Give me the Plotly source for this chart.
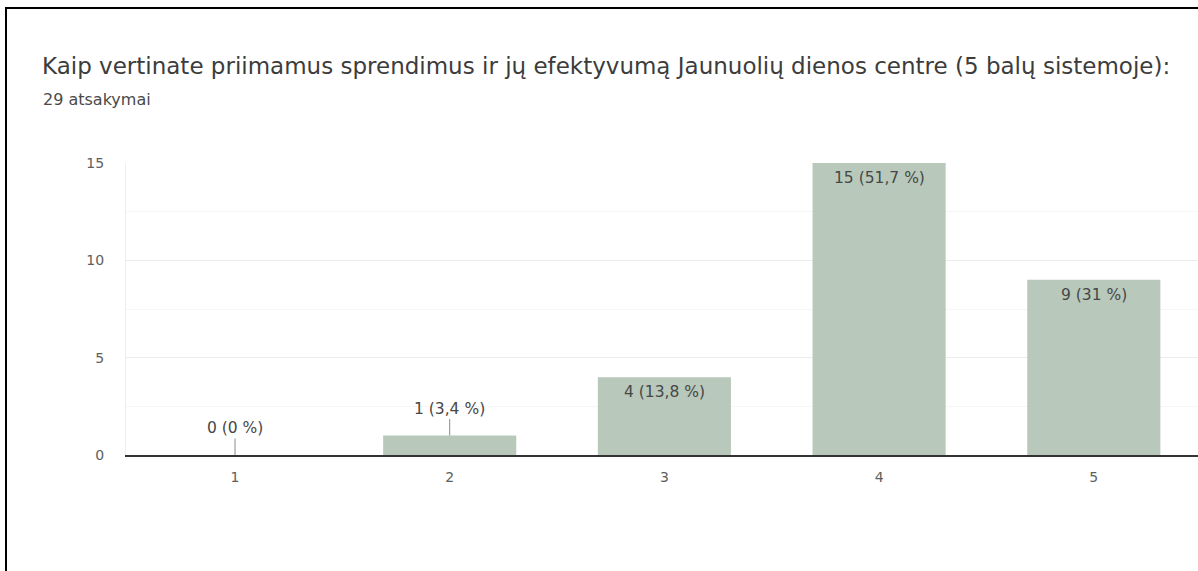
import plotly.graph_objects as go

# ---- data ----
categories = ["1", "2", "3", "4", "5"]
counts = [0, 1, 4, 15, 9]
percent_labels = ["0 %", "3,4 %", "13,8 %", "51,7 %", "31 %"]
y_ticks = [0, 5, 10, 15]
title_text = "Kaip vertinate priimamus sprendimus ir jų efektyvumą Jaunuolių dienos centre (5 balų sistemoje):"
subtitle_text = "29 atsakymai"

# ---- layout constants (pixels) ----
W, H = 1198, 571
L, R, T, B = 126, 0, 163, 116
PW, PH = W - L - R, H - T - B

def px_x(p):
    return (p - L) / PW

def px_y(p):
    return (H - B - p) / PH

FONT = "DejaVu Sans"
BAR_COLOR = "#b8c9bc"
TEXT_COLOR = "#474747"

fig = go.Figure()
fig.add_trace(go.Bar(
    x=categories,
    y=counts,
    marker=dict(color=BAR_COLOR, line=dict(width=0)),
    hoverinfo="skip",
))

annotations = []
for i, (v, p) in enumerate(zip(counts, percent_labels)):
    label = f"{v} ({p})"
    if v < 2:
        annotations.append(dict(
            x=i, y=v, xref="x", yref="y", text=label,
            showarrow=True, arrowhead=0, arrowwidth=1, arrowcolor="#8a8a8a",
            ax=0, ay=-27, standoff=0,
            font=dict(family=FONT, size=15.5, color=TEXT_COLOR),
        ))
    else:
        annotations.append(dict(
            x=i, y=v, xref="x", yref="y", text=label,
            showarrow=False, yanchor="top", yshift=-4,
            font=dict(family=FONT, size=15.5, color=TEXT_COLOR),
        ))

annotations.append(dict(
    x=px_x(40), y=px_y(66), xref="paper", yref="paper",
    xanchor="left", yanchor="middle", showarrow=False,
    text=title_text, font=dict(family=FONT, size=23, color="#3c3c3c"),
))
annotations.append(dict(
    x=px_x(41), y=px_y(100), xref="paper", yref="paper",
    xanchor="left", yanchor="middle", showarrow=False,
    text=subtitle_text, font=dict(family=FONT, size=16, color="#4a4a4a"),
))

shapes = [
    dict(type="line", xref="paper", yref="paper",
         x0=px_x(6), x1=px_x(6), y0=px_y(7), y1=px_y(H + 5),
         line=dict(color="#000000", width=2)),
    dict(type="line", xref="paper", yref="paper",
         x0=px_x(5), x1=px_x(W + 5), y0=px_y(8), y1=px_y(8),
         line=dict(color="#000000", width=2)),
]

band = 214.7
x0 = -(235 - L) / band
x1 = x0 + PW / band

fig.update_layout(
    width=W, height=H,
    margin=dict(l=L, r=R, t=T, b=B, pad=0),
    paper_bgcolor="white", plot_bgcolor="white",
    showlegend=False,
    bargap=0.38,
    annotations=annotations,
    shapes=shapes,
    font=dict(family=FONT, color="#666666"),
    xaxis=dict(
        type="category", range=[x0, x1],
        showgrid=False, zeroline=False,
        showline=True, linecolor="#333333", linewidth=1.5,
        ticks="", tickfont=dict(family=FONT, size=14, color="#5e5e5e"),
        ticklabelstandoff=8, fixedrange=True,
    ),
    yaxis=dict(
        range=[0, 15], tickvals=y_ticks,
        showgrid=True, gridcolor="#ececec", gridwidth=1,
        minor=dict(dtick=2.5, showgrid=True, gridcolor="#f6f6f6", gridwidth=1),
        zeroline=False,
        showline=True, linecolor="#eeeeee", linewidth=1,
        ticks="", tickfont=dict(family=FONT, size=14, color="#5e5e5e"),
        ticklabelstandoff=18, fixedrange=True,
    ),
)

fig.write_html("out.html", config={"displayModeBar": False},
               post_script="document.body.style.margin='0px';")
